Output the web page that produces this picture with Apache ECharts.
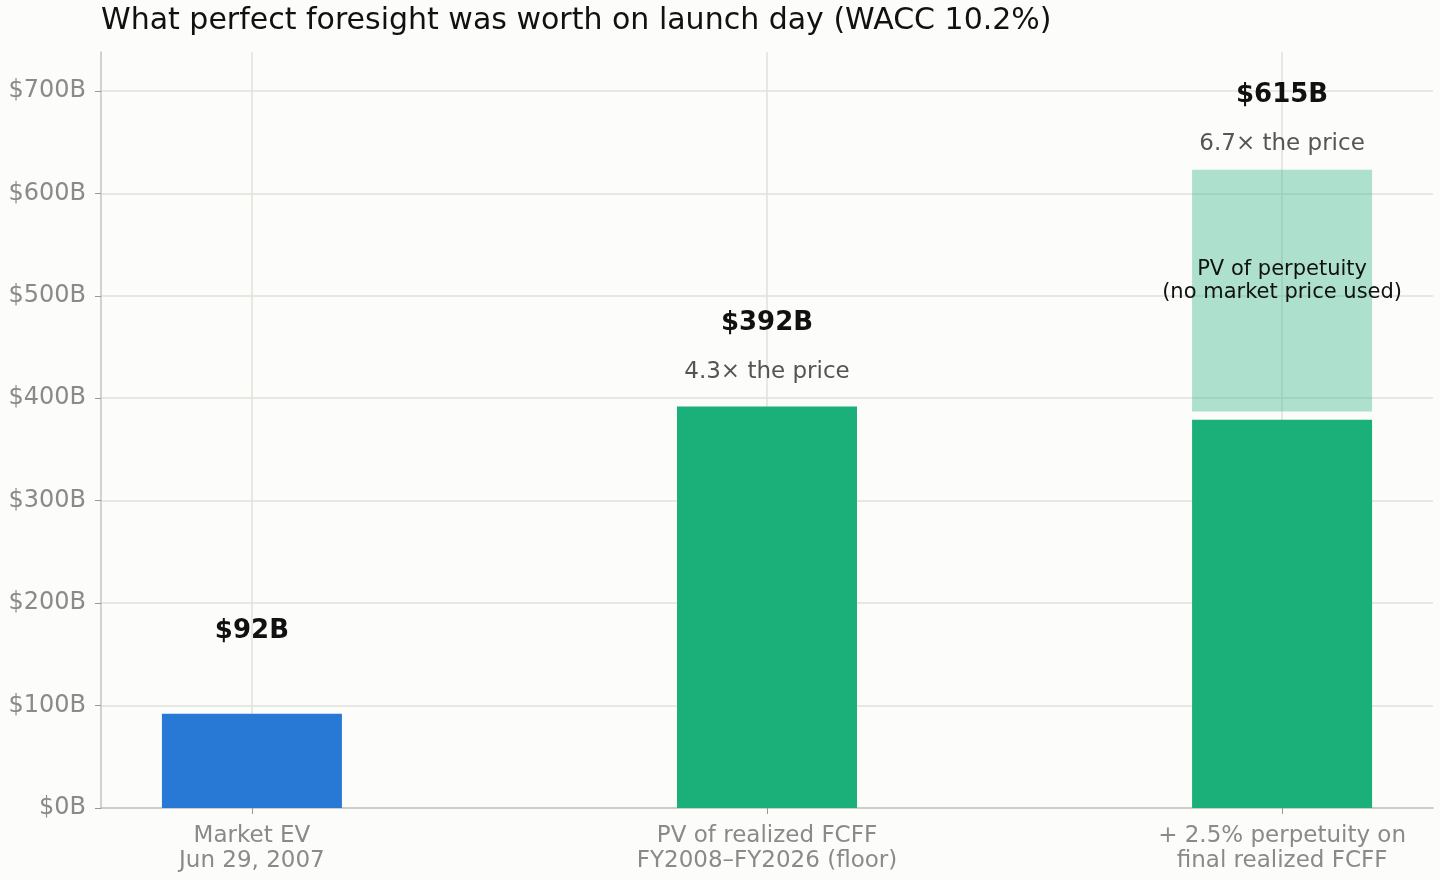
<!DOCTYPE html>
<html>
<head>
<meta charset="utf-8">
<script src="https://cdn.jsdelivr.net/npm/echarts@6/dist/echarts.min.js"></script>
<style>
  html, body { margin: 0; padding: 0; background: #fcfcfa; }
  #chart { width: 1440px; height: 880px; }
</style>
</head>
<body>
<div id="chart"></div>
<script>
var categories = ['Market EV\nJun 29, 2007', 'PV of realized FCFF\nFY2008\u2013FY2026 (floor)', '+ 2.5% perpetuity on\nfinal realized FCFF'];
var catPositions = [0, 1, 2];
var baseValues = [92, 392, 379];
var baseColors = ['#2878d6', '#1baf7a', '#1baf7a'];
// third column: small gap, then PV of perpetuity stacked on the realized FCFF part
var gapValues = [0, 0, 8];
var perpetuityValues = [0, 0, 236];
var totalValues = [92, 392, 615];
var valueLabels = ['$92B', '$392B', '$615B'];
var ratioLabels = ['', '4.3\u00d7 the price', '6.7\u00d7 the price'];
var yTicks = [0, 100, 200, 300, 400, 500, 600, 700];

var font = 'DejaVu Sans';
var chart = echarts.init(document.getElementById('chart'));

function pairs(vals) { return vals.map(function (v, i) { return [catPositions[i], v]; }); }

var perpData = [];
perpetuityValues.forEach(function (v, i) {
    if (v > 0) {
        var lo = baseValues[i] + gapValues[i];
        perpData.push([catPositions[i], lo, lo + v]);
    }
});

function renderPerp(params, api) {
    var x = api.value(0);
    var p0 = api.coord([x, api.value(1)]);
    var p1 = api.coord([x, api.value(2)]);
    return {
        type: 'rect',
        shape: { x: p0[0] - 90, y: p1[1], width: 180, height: p0[1] - p1[1] },
        style: { fill: 'rgba(27,175,122,0.35)' },
        textContent: {
            style: {
                text: 'PV of perpetuity\n(no market price used)',
                fontFamily: font, fontSize: 21, fill: '#111', lineHeight: 23, align: 'center'
            }
        },
        textConfig: { position: 'inside', offset: [0, -10] }
    };
}

chart.setOption({
    backgroundColor: '#fcfcfa',
    animation: false,
    title: {
        text: 'What perfect foresight was worth on launch day (WACC 10.2%)',
        left: 96, top: 1,
        textStyle: { fontFamily: font, fontSize: 30, fontWeight: 'normal', color: '#111' }
    },
    grid: { left: 101, right: 7, top: 52, bottom: 72, containLabel: false },
    xAxis: {
        type: 'value', min: -0.293, max: 2.293,
        axisLine: { show: true, onZero: false, lineStyle: { color: '#c4c4bc', width: 1.5 } },
        axisTick: { show: true, length: 6, customValues: catPositions, lineStyle: { color: '#999' } },
        axisLabel: {
            customValues: catPositions, margin: 16,
            fontFamily: font, fontSize: 23, color: '#8a8a86', lineHeight: 25,
            formatter: function (v) { return categories[Math.round(v)]; }
        },
        splitLine: { show: true, lineStyle: { color: '#e2e2da', width: 1.5 } }
    },
    yAxis: {
        type: 'value', min: 0, max: 738,
        axisLine: { show: true, onZero: false, lineStyle: { color: '#c4c4bc', width: 1.5 } },
        axisTick: { show: true, length: 6, customValues: yTicks, lineStyle: { color: '#999' } },
        axisLabel: {
            customValues: yTicks, margin: 15,
            fontFamily: font, fontSize: 24, color: '#8a8a86',
            formatter: function (v) { return '$' + v + 'B'; }
        },
        splitLine: { show: true, lineStyle: { color: '#e2e2da', width: 1.5 } }
    },
    series: [
        {
            name: 'base', type: 'bar', barWidth: 180, z: 2,
            data: pairs(baseValues).map(function (p, i) {
                return { value: p, itemStyle: { color: baseColors[i] } };
            })
        },
        {
            name: 'perpetuity', type: 'custom', z: 3,
            renderItem: renderPerp,
            data: perpData
        },
        {
            name: 'labels', type: 'scatter', symbolSize: 0, z: 5,
            itemStyle: { opacity: 1 },
            data: pairs(totalValues),
            label: {
                show: true, position: 'top', distance: 21,
                formatter: function (p) {
                    return '{v|' + valueLabels[p.dataIndex] + '}\n{r|' + (ratioLabels[p.dataIndex] || ' ') + '}';
                },
                rich: {
                    v: { fontFamily: font, fontSize: 26, fontWeight: 'bold', color: '#111', lineHeight: 72 },
                    r: { fontFamily: font, fontSize: 23, color: '#555', lineHeight: 26 }
                }
            }
        }
    ]
});
</script>
</body>
</html>
